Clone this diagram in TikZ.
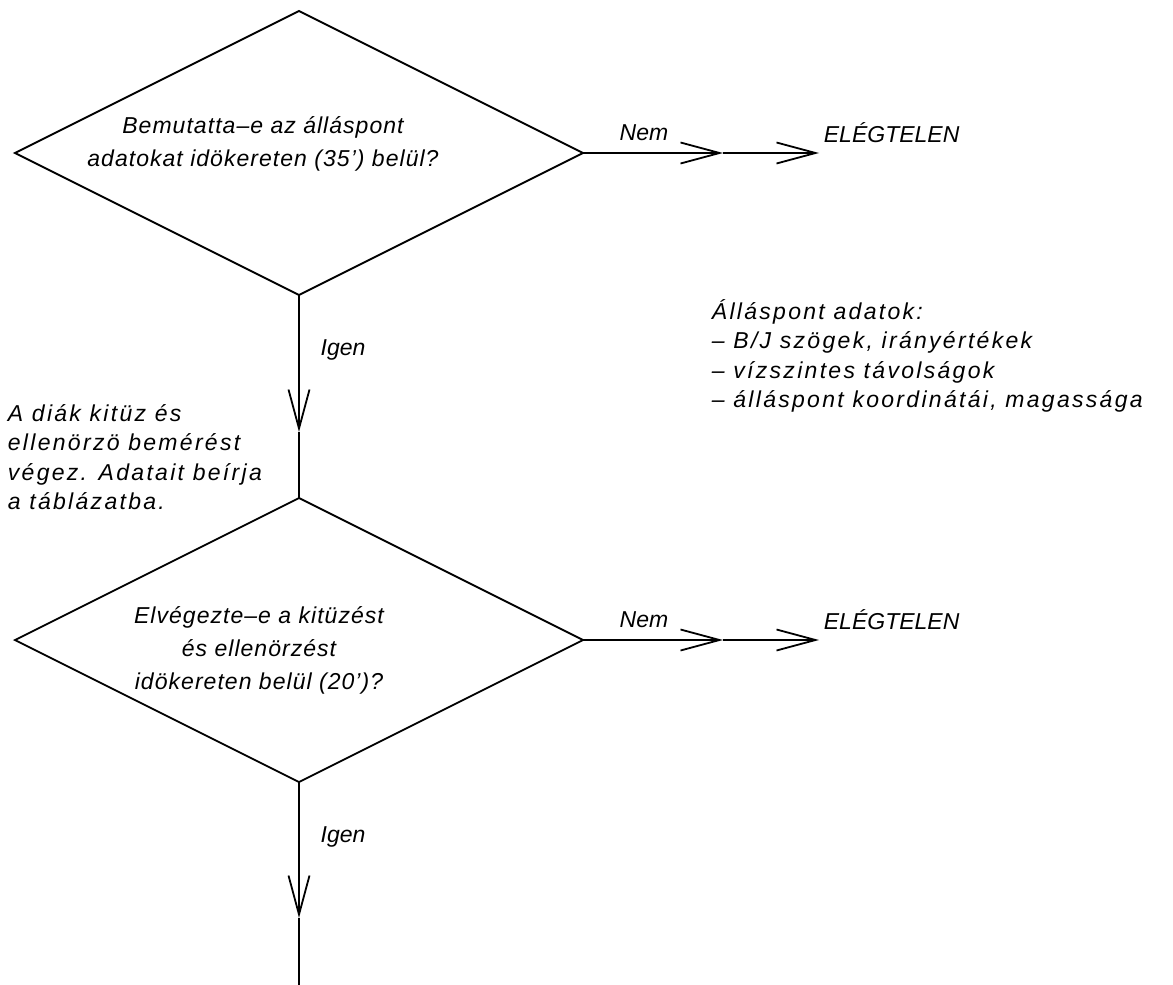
\documentclass[tikz,border=0pt]{standalone}
\usepackage{fontspec}
\setmainfont{Liberation Sans}
\usetikzlibrary{shapes.geometric,arrows.meta}
\tikzset{
  dec/.style={diamond, draw, minimum width=568pt, minimum height=284pt, inner sep=0pt, outer sep=0pt},
  txt/.style={inner sep=0pt, font=\fontsize{23}{33}\selectfont\itshape},
  dtxt/.style={inner sep=0pt, align=center, font=\fontsize{23}{33}\selectfont\itshape\addfontfeatures{LetterSpace=4.5}},
  ltxt/.style={inner sep=0pt, align=left, anchor=west, font=\fontsize{23}{29.5}\selectfont\itshape\addfontfeatures{LetterSpace=10}},
  conn/.style={line width=1.8pt},
  barb/.style={conn, -{Straight Barb[length=39pt,width=21pt]}}
}
\begin{document}
\begin{tikzpicture}[x=1pt,y=-1pt, line width=1.8pt]
\useasboundingbox (0,0) rectangle (1173,985);
% decisions
\node[dec] (d1) at (299,153) {};
\node[dec] (d2) at (299,640) {};
\node[dtxt] (t1) at (263,144) {Bemutatta–e az álláspont\\adatokat idökereten (35’) belül?};
\node[dtxt] (t2) at (259,650) {Elvégezte–e a kitüzést\\és ellenörzést\\idökereten belül (20’)?};
% coordinates
\coordinate (m1) at (723,153);
\coordinate (e1) at (819,153);
\coordinate (m2) at (723,640);
\coordinate (e2) at (819,640);
\coordinate (v1) at (299,432);
\coordinate (v2) at (299,918);
\coordinate (end) at (299,985);
% connectors
\draw[barb] (d1.east) -- (m1);
\draw[barb] (m1) -- (e1);
\draw[barb] (d2.east) -- (m2);
\draw[barb] (m2) -- (e2);
\draw[barb] (d1.south) -- (v1);
\draw[conn] (v1) -- (d2.north);
\draw[barb] (d2.south) -- (v2);
\draw[conn] (v2) -- (end);
% labels
\node[txt] (n1) at (644,133) {Nem};
\node[txt, anchor=west] (f1) at (823,133) {ELÉGTELEN};
\node[txt] (n2) at (644,620) {Nem};
\node[txt, anchor=west] (f2) at (823,620) {ELÉGTELEN};
\node[txt] (i1) at (343,350) {Igen};
\node[txt] (i2) at (343,837) {Igen};
\node[ltxt] (left) at (7,457) {A diák kitüz és\\ellenörzö bemérést\\végez. Adatait beírja\\a táblázatba.};
\node[ltxt] (right) at (711,356) {Álláspont adatok:\\– B/J szögek, irányértékek\\– vízszintes távolságok\\– álláspont koordinátái, magassága};
\end{tikzpicture}
\end{document}
